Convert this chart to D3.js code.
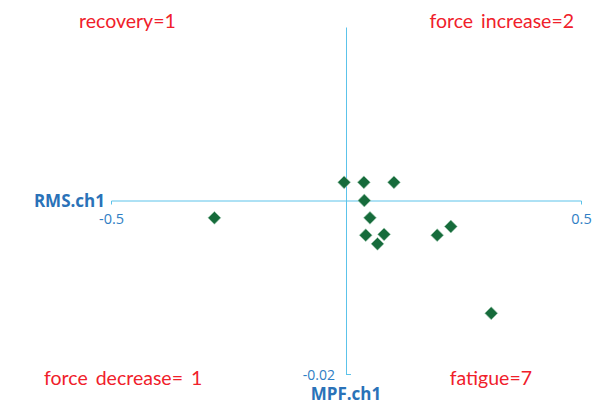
<!DOCTYPE html>
<html>
<head>
<meta charset="utf-8">
<script src="https://cdn.jsdelivr.net/npm/d3@7"></script>
<style>
  body { margin: 0; background: #fff; }
  svg { display: block; }
</style>
</head>
<body>
<div id="chart"></div>
<script>
// RMS.ch1 (x) vs MPF.ch1 (y)
const rmsValues = [-0.28, -0.004, 0.038, 0.102, 0.039, 0.051, 0.042, 0.081, 0.067, 0.194, 0.223, 0.309];
const mpfValues = [-0.0020, 0.0021, 0.0021, 0.0021, 0.0000, -0.0020, -0.0040, -0.0039, -0.0050, -0.0040, -0.0030, -0.0130];
const xTicks = [-0.5, 0.5];
const yTicks = [-0.02];
const quadrantLabels = ["recovery=1", "force increase=2", "force decrease= 1", "fatigue=7"];

const width = 605, height = 417;
const axisColor = "#5cc3ea", labelColor = "#2f7ec4", titleColor = "#2a72b8";

const svg = d3.select("#chart").append("svg")
  .attr("width", width)
  .attr("height", height);

const x = d3.scaleLinear().domain([-0.5, 0.5]).range([111, 581]);
const y = d3.scaleLinear().domain([-0.02, 0.02]).range([374, 27]);

// horizontal axis through y = 0
const gx = svg.append("g")
  .attr("transform", "translate(0," + y(0) + ")")
  .call(d3.axisBottom(x).tickValues(xTicks).tickSizeInner(0).tickSizeOuter(4).tickPadding(13)
    .tickFormat(d => String(d)));
gx.select(".domain").attr("stroke", axisColor);
gx.selectAll(".tick line").remove();
gx.selectAll("text").attr("fill", labelColor).style("font", "14.5px 'Open Sans', sans-serif");

// vertical axis through x = 0
const gy = svg.append("g")
  .attr("transform", "translate(" + x(0) + ",0)")
  .call(d3.axisLeft(y).tickValues(yTicks).tickSizeInner(-5).tickSizeOuter(0).tickPadding(11)
    .tickFormat(d => String(d)));
gy.select(".domain").attr("stroke", axisColor);
gy.selectAll(".tick line").attr("stroke", axisColor);
gy.selectAll("text").attr("fill", labelColor).attr("dy", "0.4em")
  .style("font", "14px 'Open Sans', sans-serif");

// axis titles
svg.append("text")
  .attr("x", x(-0.5) - 6).attr("y", y(0) + 6)
  .attr("text-anchor", "end")
  .attr("fill", titleColor)
  .style("font", "bold 17px 'Open Sans', sans-serif")
  .text("RMS.ch1");
svg.append("text")
  .attr("x", x(0)).attr("y", 400)
  .attr("text-anchor", "middle")
  .attr("fill", titleColor)
  .style("font", "bold 17px 'Open Sans', sans-serif")
  .text("MPF.ch1");

// points
const pts = rmsValues.map((v, i) => ({ x: v, y: mpfValues[i] }));
svg.selectAll("path.pt")
  .data(pts)
  .enter()
  .append("path")
  .attr("class", "pt")
  .attr("d", d3.symbol().type(d3.symbolSquare).size(82))
  .attr("transform", d => "translate(" + x(d.x) + "," + y(d.y) + ") rotate(45)")
  .attr("fill", "#166b3b")
  .attr("stroke", "#9ec9b0")
  .attr("stroke-width", 0.6);

// quadrant counts
const qPos = [[79, 28, "start"], [574, 28, "end"], [44, 385, "start"], [532, 385, "end"]];
svg.selectAll("text.q")
  .data(quadrantLabels)
  .enter()
  .append("text")
  .attr("class", "q")
  .attr("x", (d, i) => qPos[i][0])
  .attr("y", (d, i) => qPos[i][1])
  .attr("text-anchor", (d, i) => qPos[i][2])
  .attr("fill", "#f0202a")
  .style("font", "19.5px Lato, sans-serif")
  .style("word-spacing", "3px")
  .text(d => d);
</script>
</body>
</html>
